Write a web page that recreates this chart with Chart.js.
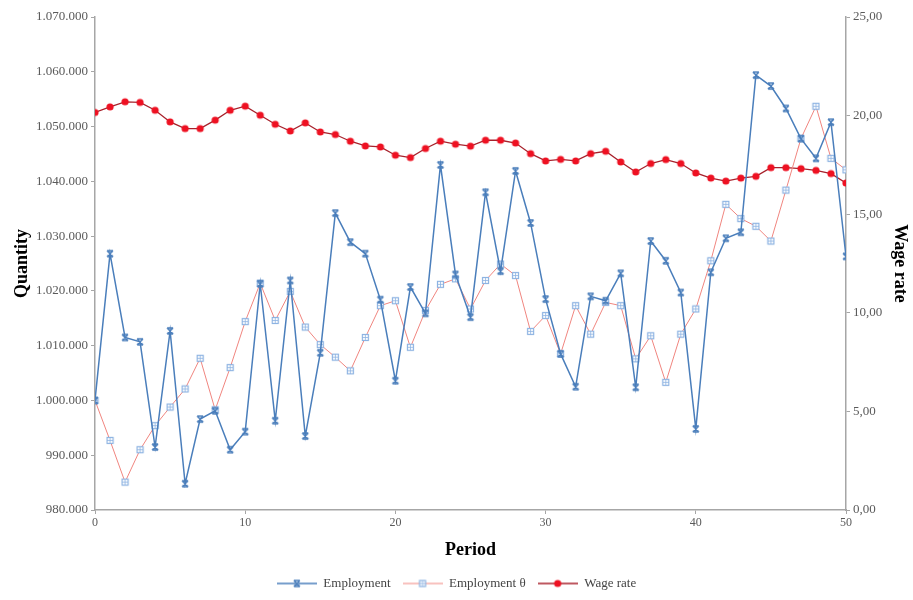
<!DOCTYPE html>
<html>
<head>
<meta charset="utf-8">
<script src="https://cdn.jsdelivr.net/npm/chart.js@4"></script>
<style>
  html, body { margin: 0; padding: 0; background: #fff; }
  #wrap { position: relative; width: 913px; height: 600px; }
</style>
</head>
<body>
<div id="wrap"><canvas id="chart"></canvas></div>
<script>
// Data
const periods = [0,1,2,3,4,5,6,7,8,9,10,11,12,13,14,15,16,17,18,19,20,21,22,23,24,25,
  26,27,28,29,30,31,32,33,34,35,36,37,38,39,40,41,42,43,44,45,46,47,48,49,50];

const employment = [1000000,1026800,1011500,1010700,991500,1012700,984800,996600,998100,991000,
  994300,1021300,996300,1021900,993500,1008700,1034200,1028900,1026800,1018400,
  1003600,1020700,1015900,1043000,1023000,1015200,1038000,1023600,1041900,1032400,
  1018500,1008500,1002500,1019000,1018200,1023200,1002400,1029100,1025500,1019700,
  994800,1023400,1029600,1030700,1059400,1057400,1053300,1047800,1044200,1050800,1026300];

const employmentTheta = [1000000,992700,985100,991000,995400,998800,1002100,1007700,998300,1006000,
  1014400,1021400,1014600,1019900,1013400,1010200,1007900,1005400,1011500,1017300,
  1018200,1009700,1016400,1021200,1022200,1016700,1021900,1024900,1022800,1012600,
  1015500,1008500,1017300,1012100,1017900,1017300,1007600,1011800,1003300,1012100,
  1016700,1025500,1035800,1033200,1031800,1029100,1038400,1047800,1053700,1044200,1042100];

const wageRate = [20.16,20.44,20.70,20.67,20.27,19.68,19.34,19.34,19.77,20.27,
  20.48,20.02,19.56,19.22,19.63,19.17,19.04,18.70,18.46,18.41,
  17.99,17.87,18.33,18.70,18.55,18.45,18.75,18.75,18.61,18.07,
  17.70,17.78,17.70,18.07,18.19,17.65,17.14,17.57,17.77,17.57,
  17.09,16.83,16.68,16.83,16.92,17.36,17.36,17.31,17.22,17.06,16.58];

const BLUE = "#4a7ebb";
const LIGHT_BLUE = "#8db3e2";
const SALMON = "#f0857f";
const RED = "#ee1122";
const WAGE_LINE = "#a8222c";
const FONT = "'Liberation Serif', 'Times New Roman', serif";
const TICK_COLOR = "#5a5a5a";
const AXIS_COLOR = "#a6a6a6";

// --- marker images ---
function drawEmpMarker(ctx, cx, cy) {
  ctx.strokeStyle = BLUE;
  ctx.lineWidth = 1.5;
  ctx.beginPath();
  ctx.moveTo(cx - 3, cy - 3); ctx.lineTo(cx + 3, cy + 3);
  ctx.moveTo(cx + 3, cy - 3); ctx.lineTo(cx - 3, cy + 3);
  ctx.moveTo(cx - 3, cy - 3); ctx.lineTo(cx + 3, cy - 3);
  ctx.moveTo(cx - 3, cy + 3); ctx.lineTo(cx + 3, cy + 3);
  ctx.stroke();
}

function drawThetaMarker(ctx, cx, cy) {
  ctx.fillStyle = "#fff";
  ctx.fillRect(cx - 3, cy - 3, 6, 6);
  ctx.strokeStyle = LIGHT_BLUE;
  ctx.lineWidth = 1.2;
  ctx.strokeRect(cx - 3, cy - 3, 6, 6);
  ctx.lineWidth = 0.8;
  ctx.beginPath();
  ctx.moveTo(cx, cy - 3); ctx.lineTo(cx, cy + 3);
  ctx.moveTo(cx - 3, cy); ctx.lineTo(cx + 3, cy);
  ctx.stroke();
}

function drawWageMarker(ctx, cx, cy) {
  ctx.fillStyle = RED;
  ctx.beginPath();
  ctx.arc(cx, cy, 3.6, 0, Math.PI * 2);
  ctx.fill();
}

function markerImage(drawFn, w, h) {
  const c = document.createElement("canvas");
  c.width = w; c.height = h;
  drawFn(c.getContext("2d"), w / 2, h / 2);
  return c;
}

function legendIcon(lineColor, lineWidth, drawFn) {
  const c = document.createElement("canvas");
  c.width = 40; c.height = 12;
  const ctx = c.getContext("2d");
  ctx.strokeStyle = lineColor;
  ctx.lineWidth = lineWidth;
  ctx.beginPath();
  ctx.moveTo(0, 6); ctx.lineTo(40, 6);
  ctx.stroke();
  drawFn(ctx, 20, 6);
  return c;
}

const empImg = markerImage(drawEmpMarker, 10, 10);
const thetaImg = markerImage(drawThetaMarker, 9, 9);
const wageImg = markerImage(drawWageMarker, 10, 10);

const legendIcons = [
  legendIcon(BLUE, 1.3, drawEmpMarker),
  legendIcon(SALMON, 1, drawThetaMarker),
  legendIcon(WAGE_LINE, 1.3, drawWageMarker),
];

const xy = (arr) => arr.map((v, i) => ({ x: periods[i], y: v }));

new Chart(document.getElementById("chart"), {
  type: "line",
  data: {
    datasets: [
      {
        label: "Employment",
        data: xy(employment),
        yAxisID: "y",
        borderColor: BLUE,
        borderWidth: 1.5,
        pointStyle: empImg,
        tension: 0,
      },
      {
        label: "Employment θ",
        data: xy(employmentTheta),
        yAxisID: "y",
        borderColor: SALMON,
        borderWidth: 1,
        pointStyle: thetaImg,
        tension: 0,
      },
      {
        label: "Wage rate",
        data: xy(wageRate),
        yAxisID: "y1",
        borderColor: WAGE_LINE,
        borderWidth: 1.3,
        pointStyle: wageImg,
        tension: 0,
      },
    ],
  },
  options: {
    responsive: true,
    maintainAspectRatio: false,
    animation: false,
    layout: { padding: { top: 17, bottom: 0, left: 0, right: 0 } },
    plugins: {
      tooltip: { enabled: false },
      legend: {
        position: "bottom",
        labels: {
          usePointStyle: true,
          pointStyleWidth: 40,
          padding: 12,
          color: "#444",
          font: { family: FONT, size: 13 },
          generateLabels: (chart) => chart.data.datasets.map((ds, i) => ({
            text: ds.label,
            pointStyle: legendIcons[i],
            fillStyle: "transparent",
            strokeStyle: "transparent",
            lineWidth: 0,
            datasetIndex: i,
            fontColor: "#444",
          })),
        },
      },
    },
    scales: {
      x: {
        type: "linear",
        min: 0,
        max: 50,
        ticks: {
          stepSize: 10,
          color: TICK_COLOR,
          font: { family: FONT, size: 12 },
          padding: 2,
        },
        grid: { drawOnChartArea: false, tickLength: 4, color: AXIS_COLOR },
        border: { color: AXIS_COLOR, width: 1.5 },
        title: {
          display: true,
          text: "Period",
          color: "#000",
          font: { family: FONT, size: 18, weight: "bold" },
          padding: { top: 8 },
        },
        afterFit: (s) => { s.height = 55; },
      },
      y: {
        position: "left",
        min: 980000,
        max: 1070000,
        ticks: {
          stepSize: 10000,
          color: TICK_COLOR,
          font: { family: FONT, size: 13 },
          padding: 3,
          callback: (v) => v.toLocaleString("de-DE"),
        },
        grid: { drawOnChartArea: false, tickLength: 4, color: AXIS_COLOR },
        border: { color: AXIS_COLOR, width: 1.5 },
        title: {
          display: true,
          text: "Quantity",
          color: "#000",
          font: { family: FONT, size: 18, weight: "bold" },
          padding: { top: 12, bottom: 0 },
        },
        afterFit: (s) => { s.width = 95; },
      },
      y1: {
        position: "right",
        min: 0,
        max: 25,
        ticks: {
          stepSize: 5,
          color: TICK_COLOR,
          font: { family: FONT, size: 13 },
          padding: 3,
          callback: (v) => v.toFixed(2).replace(".", ","),
        },
        grid: { drawOnChartArea: false, tickLength: 4, color: AXIS_COLOR },
        border: { color: AXIS_COLOR, width: 1.5 },
        title: {
          display: true,
          text: "Wage rate",
          color: "#000",
          font: { family: FONT, size: 18, weight: "bold" },
          padding: { top: 3, bottom: 0 },
        },
        afterFit: (s) => { s.width = 67; },
      },
    },
  },
});
</script>
</body>
</html>
